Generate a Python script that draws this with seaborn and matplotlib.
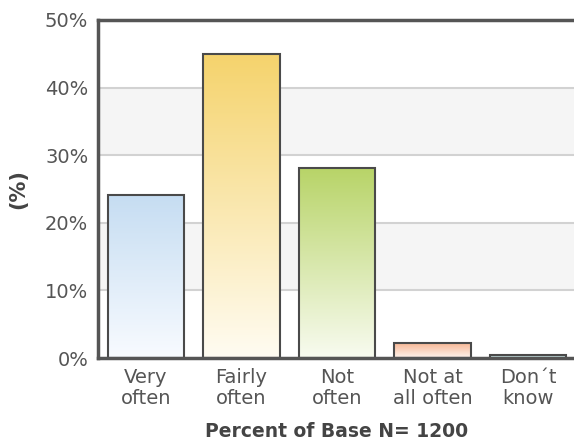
import numpy as np
import matplotlib
matplotlib.use('Agg')
import matplotlib.pyplot as plt
import seaborn as sns
from matplotlib.colors import LinearSegmentedColormap

categories = ['Very\noften', 'Fairly\noften', 'Not\noften', 'Not at\nall often', 'Don´t\nknow']
values = [24.1, 45.0, 28.1, 2.2, 0.5]
top_colors = ['#c6ddf2', '#f5d36c', '#b8d468', '#f7b896', '#8cc8c8']
bottom_colors = ['#f8fbff', '#fffcf2', '#f8fbf0', '#fff4ee', '#eef8f8']
y_ticks = [0, 10, 20, 30, 40, 50]

sns.set_style('white')
plt.rcParams['font.family'] = ['DejaVu Sans']

fig = plt.figure(figsize=(5.74, 4.41), dpi=100)
ax = fig.add_axes([98 / 574, 83 / 441, 478 / 574, 338 / 441])

sns.barplot(x=categories, y=values, hue=categories, palette=top_colors,
            legend=False, width=0.8, edgecolor='#4a4a4a', linewidth=1.5,
            ax=ax, zorder=3)
bars = [b for c in ax.containers for b in c]

ax.set_xlim(-0.5, 4.5)
ax.set_ylim(0, 50)

# vertical gradient fill for each bar
grad = np.linspace(0, 1, 256).reshape(-1, 1)
for p, top, bot in zip(bars, top_colors, bottom_colors):
    x0, y0 = p.get_x(), p.get_y()
    w, h = p.get_width(), p.get_height()
    cmap = LinearSegmentedColormap.from_list('g', [bot, top])
    im = ax.imshow(grad, cmap=cmap, extent=[x0, x0 + w, y0, y0 + h],
                   origin='lower', aspect='auto', zorder=3.5)
    im.set_clip_path(p)
    p.set_facecolor('none')
    p.set_zorder(4)

# alternating background bands and grid lines
for lo in [10, 30]:
    ax.axhspan(lo, lo + 10, color='#f5f5f5', zorder=0, lw=0)
for t in [10, 20, 30, 40]:
    ax.axhline(t, color='#d2d2d2', lw=1.5, zorder=1)

ax.set_xlim(-0.5, 4.5)
ax.set_ylim(0, 50)
ax.set_yticks(y_ticks)
ax.set_yticklabels([f'{t}%' for t in y_ticks])
ax.tick_params(axis='both', length=0, labelsize=14, labelcolor='#555555')
ax.tick_params(axis='y', pad=7)
ax.tick_params(axis='x', pad=7)
for lab in ax.get_xticklabels():
    lab.set_linespacing(1.15)

for side in ['left', 'bottom', 'top']:
    ax.spines[side].set_color('#555555')
    ax.spines[side].set_linewidth(2.5)
    ax.spines[side].set_zorder(6)
ax.spines['right'].set_visible(False)

ax.set_ylabel('(%)', fontsize=15, fontweight='bold', color='#444444')
ax.yaxis.set_label_coords(-0.146, 0.5)
ax.set_xlabel('Percent of Base N= 1200', fontsize=13.5, fontweight='bold', color='#444444')
ax.xaxis.set_label_coords(0.5, -0.19)

fig.savefig('out.png', dpi=100)
